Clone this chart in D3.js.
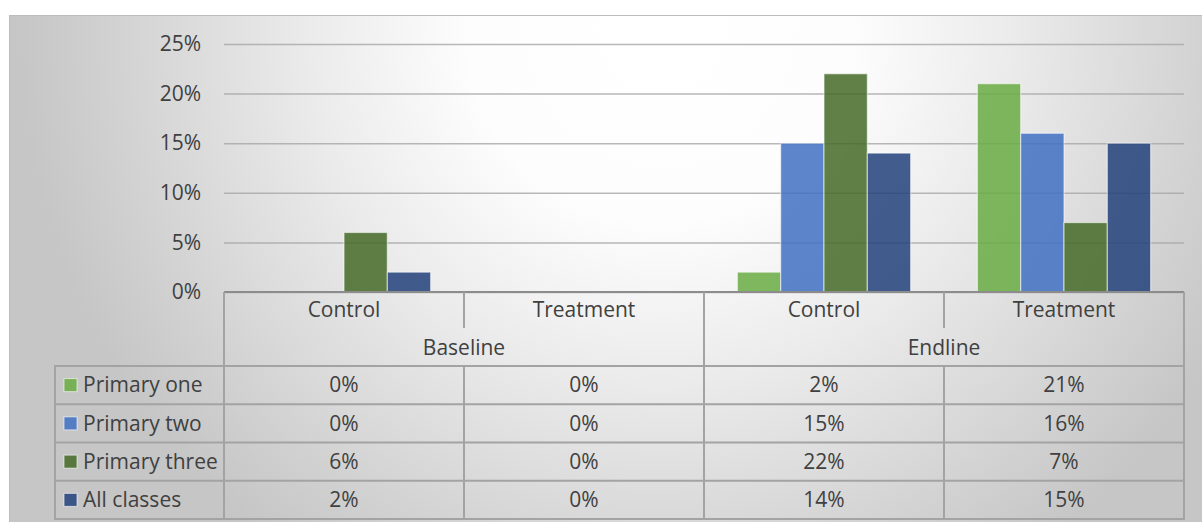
<!DOCTYPE html>
<html>
<head>
<meta charset="utf-8">
<script src="https://cdn.jsdelivr.net/npm/d3@7"></script>
<style>
  html, body { margin: 0; padding: 0; background: #ffffff; }
  svg { display: block; }
  text { font-family: "Open Sans", "Noto Sans", sans-serif; fill: #404040; }
</style>
</head>
<body>
<svg id="chart" width="1202" height="522"></svg>
<script>
// Share of pupils, by survey round and study arm
const rounds = ["Baseline", "Endline"];
const arms = ["Control", "Treatment"];
const categories = ["Baseline|Control", "Baseline|Treatment", "Endline|Control", "Endline|Treatment"];
const seriesNames = ["Primary one", "Primary two", "Primary three", "All classes"];
const primaryOne = [0.00, 0.00, 0.02, 0.21];
const primaryTwo = [0.00, 0.00, 0.15, 0.16];
const primaryThree = [0.06, 0.00, 0.22, 0.07];
const allClasses = [0.02, 0.00, 0.14, 0.15];
const yTicks = [0, 0.05, 0.10, 0.15, 0.20, 0.25];

const seriesValues = [primaryOne, primaryTwo, primaryThree, allClasses];
const seriesColors = ["#6aab43", "#4170c2", "#446a28", "#22427a"];
const fontSize = 21;

const svg = d3.select("#chart");
const W = 1202, H = 522;

// Chart area background with a soft radial fill
const defs = svg.append("defs");
const grad = defs.append("radialGradient")
  .attr("id", "bg").attr("gradientUnits", "userSpaceOnUse")
  .attr("cx", 660).attr("cy", 30).attr("r", 640);
[[0, "#ffffff"], [0.3, "#fdfdfd"], [0.55, "#ebebeb"], [0.85, "#d2d2d2"], [1, "#c6c6c6"]]
  .forEach(([o, c]) => grad.append("stop").attr("offset", o).attr("stop-color", c));

svg.append("rect")
  .attr("x", 9.5).attr("y", 15.5).attr("width", W).attr("height", H)
  .attr("fill", "url(#bg)").attr("stroke", "#bdbdbd").attr("stroke-width", 1);

const plotLeft = 224, plotRight = 1184, plotTop = 44, plotBottom = 292;

const x0 = d3.scaleBand().domain(categories).range([plotLeft, plotRight]).padding(0);
const x1 = d3.scaleBand().domain(seriesNames).range([0, x0.bandwidth()])
  .paddingInner(0).paddingOuter(0.77);
const y = d3.scaleLinear().domain([0, 0.25]).range([plotBottom, plotTop]);
const pct = d3.format(".0%");

// Horizontal gridlines and y tick labels
const yAxis = d3.axisLeft(y).tickValues(yTicks).tickFormat(pct)
  .tickSize(-(plotRight - plotLeft)).tickPadding(23);
const gy = svg.append("g").attr("transform", `translate(${plotLeft},0)`).call(yAxis);
gy.select(".domain").remove();
gy.selectAll(".tick line").attr("stroke", "#a6a6a6").attr("stroke-opacity", 0.8).attr("stroke-width", 1.5);
gy.selectAll(".tick text").attr("font-size", fontSize).attr("fill", "#404040")
  .style("font-family", "'Open Sans', sans-serif");

// Bars
const barData = [];
seriesNames.forEach((s, si) => {
  categories.forEach((c, ci) => {
    const v = seriesValues[si][ci];
    if (v > 0) barData.push({ s, c, v, color: seriesColors[si] });
  });
});
svg.append("g").selectAll("rect").data(barData).join("rect")
  .attr("x", d => x0(d.c) + x1(d.s))
  .attr("y", d => y(d.v))
  .attr("width", x1.bandwidth())
  .attr("height", d => y(0) - y(d.v))
  .attr("fill", d => d.color).attr("fill-opacity", 0.85)
  .attr("stroke", "#ffffff").attr("stroke-opacity", 0.55).attr("stroke-width", 1.2);

// Category axis line
svg.append("line").attr("x1", plotLeft).attr("x2", plotRight)
  .attr("y1", plotBottom).attr("y2", plotBottom)
  .attr("stroke", "#8c8c8c").attr("stroke-width", 2);

// Data table below the plot
const armRowY = 310, roundRowY = 348;
const rowTop = 366, rowH = 38.25;
const legendLeft = 55;
const lineColor = "#a3a3a3";
const tbl = svg.append("g").attr("stroke", lineColor).attr("stroke-width", 2);

// Arm labels and round labels
svg.append("g").selectAll("text").data(categories).join("text")
  .attr("x", d => x0(d) + x0.bandwidth() / 2).attr("y", armRowY).attr("dy", "0.35em")
  .attr("text-anchor", "middle").attr("font-size", fontSize)
  .text(d => d.split("|")[1]);
svg.append("g").selectAll("text").data(rounds).join("text")
  .attr("x", (d, i) => x0(categories[i * 2]) + x0.bandwidth()).attr("y", roundRowY).attr("dy", "0.35em")
  .attr("text-anchor", "middle").attr("font-size", fontSize)
  .text(d => d);

// Vertical separators
const roundEdges = [plotLeft, x0(categories[2]), plotRight];
roundEdges.forEach(xv => tbl.append("line").attr("x1", xv).attr("x2", xv)
  .attr("y1", plotBottom).attr("y2", rowTop + rowH * seriesNames.length));
[x0(categories[1]), x0(categories[3])].forEach(xv => {
  tbl.append("line").attr("x1", xv).attr("x2", xv).attr("y1", plotBottom).attr("y2", roundRowY - 20);
  tbl.append("line").attr("x1", xv).attr("x2", xv).attr("y1", rowTop).attr("y2", rowTop + rowH * seriesNames.length);
});
tbl.append("line").attr("x1", legendLeft).attr("x2", legendLeft)
  .attr("y1", rowTop).attr("y2", rowTop + rowH * seriesNames.length);

// Horizontal row lines
d3.range(seriesNames.length + 1).forEach(i => tbl.append("line")
  .attr("x1", legendLeft - 1).attr("x2", plotRight + 1)
  .attr("y1", rowTop + rowH * i).attr("y2", rowTop + rowH * i));

// Rows: legend key, series name, values
const rows = svg.append("g").selectAll("g").data(seriesNames).join("g")
  .attr("transform", (d, i) => `translate(0,${rowTop + rowH * i + rowH / 2})`);
rows.append("rect").attr("x", 64).attr("y", -6.5).attr("width", 13).attr("height", 13)
  .attr("fill", (d, i) => seriesColors[i]).attr("fill-opacity", 0.85)
  .attr("stroke", "#ffffff").attr("stroke-opacity", 0.6).attr("stroke-width", 1);
rows.append("text").attr("x", 83).attr("dy", "0.35em").attr("font-size", fontSize).text(d => d);
rows.each(function (s, si) {
  d3.select(this).selectAll("text.val").data(categories).join("text").attr("class", "val")
    .attr("x", c => x0(c) + x0.bandwidth() / 2).attr("dy", "0.35em")
    .attr("text-anchor", "middle").attr("font-size", fontSize)
    .text((c, ci) => pct(seriesValues[si][ci]));
});
</script>
</body>
</html>
